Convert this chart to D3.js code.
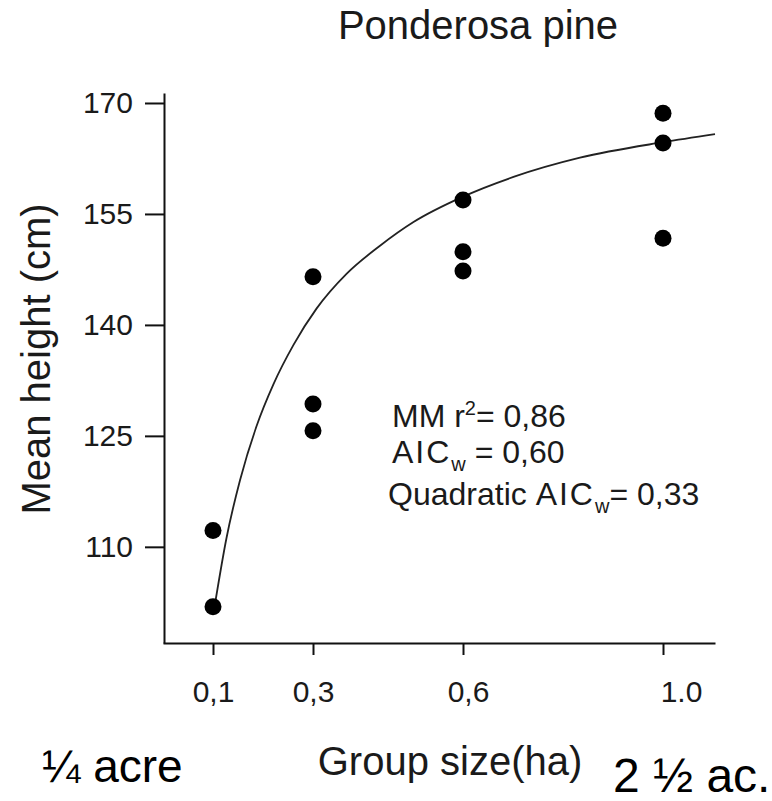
<!DOCTYPE html>
<html>
<head>
<meta charset="utf-8">
<script src="https://cdn.jsdelivr.net/npm/d3@7"></script>
<style>
  body { margin: 0; background: #fff; }
  svg text { font-family: "Liberation Sans", Arial, sans-serif; }
</style>
</head>
<body>
<div id="chart"></div>
<script>
  // observations (group size in ha, mean height in cm)
  const groupSize = [0.1, 0.1, 0.3, 0.3, 0.3, 0.6, 0.6, 0.6, 1.0, 1.0, 1.0];
  const meanHeight = [112.2, 101.9, 146.5, 129.3, 125.7, 156.9, 149.9, 147.3, 168.6, 164.6, 151.7];

  // fitted Michaelis-Menten curve
  const curveX = [0.105, 0.127, 0.154, 0.187, 0.221, 0.261, 0.307, 0.367, 0.434, 0.501, 0.599, 0.701, 0.834, 1.0, 1.104];
  const curveY = [102.7, 111.2, 119.0, 126.3, 132.0, 137.3, 142.2, 146.9, 150.7, 153.9, 157.3, 160.0, 162.6, 164.7, 165.8];

  const xTicks = [0.1, 0.3, 0.6, 1.0];
  const xTickLabels = ["0,1", "0,3", "0,6", "1.0"];
  const yTicks = [110, 125, 140, 155, 170];

  const width = 772,
    height = 801;

  const svg = d3.select("#chart")
    .append("svg")
    .attr("width", width)
    .attr("height", height);

  const x = d3.scaleLinear()
    .domain([0, 1.104])
    .range([163, 715]);

  const y = d3.scaleLinear()
    .domain([97, 171.35])
    .range([643, 93]);

  // y axis
  const yAxis = svg.append("g")
    .attr("transform", "translate(164,0)")
    .call(d3.axisLeft(y)
      .tickValues(yTicks)
      .tickSize(19)
      .tickSizeOuter(0)
      .tickPadding(12));

  yAxis.selectAll("text")
    .style("font-size", "30px")
    .attr("fill", "#1a1a1a");

  // x axis
  const xAxis = svg.append("g")
    .attr("transform", "translate(0,643)")
    .call(d3.axisBottom(x)
      .tickValues(xTicks)
      .tickFormat((d, i) => xTickLabels[i])
      .tickSize(12)
      .tickSizeOuter(0)
      .tickPadding(26));

  // the labels under 0.6 and 1.0 sit a little right of their ticks
  xAxis.selectAll("text")
    .style("font-size", "30px")
    .attr("fill", "#1a1a1a")
    .attr("dx", d => d === 1.0 ? 18 : (d === 0.6 ? 5 : 0));

  svg.selectAll(".domain, .tick line")
    .attr("stroke", "#111")
    .attr("stroke-width", 2);

  // fitted curve
  const line = d3.line()
    .x(d => x(d[0]))
    .y(d => y(d[1]))
    .curve(d3.curveMonotoneX);

  svg.append("path")
    .datum(d3.zip(curveX, curveY))
    .attr("d", line)
    .attr("fill", "none")
    .attr("stroke", "#222")
    .attr("stroke-width", 1.8);

  // points
  svg.selectAll("circle")
    .data(d3.zip(groupSize, meanHeight))
    .enter()
    .append("circle")
    .attr("cx", d => x(d[0]))
    .attr("cy", d => y(d[1]))
    .attr("r", 8.5)
    .attr("fill", "#000");

  // titles
  svg.append("text")
    .attr("x", 478)
    .attr("y", 39)
    .attr("text-anchor", "middle")
    .style("font-size", "40px")
    .attr("fill", "#1a1a1a")
    .text("Ponderosa pine");

  svg.append("text")
    .attr("transform", "translate(50,359) rotate(-90)")
    .attr("text-anchor", "middle")
    .style("font-size", "40px")
    .attr("fill", "#1a1a1a")
    .text("Mean height (cm)");

  svg.append("text")
    .attr("x", 450)
    .attr("y", 775)
    .attr("text-anchor", "middle")
    .style("font-size", "40px")
    .attr("fill", "#1a1a1a")
    .text("Group size(ha)");

  svg.append("text")
    .attr("x", 42)
    .attr("y", 782)
    .style("font-size", "46px")
    .attr("fill", "#000")
    .text("¼ acre");

  svg.append("text")
    .attr("x", 613)
    .attr("y", 792)
    .style("font-size", "48px")
    .attr("fill", "#000")
    .text("2 ½ ac.");

  // model statistics
  const stats = svg.append("g")
    .style("font-size", "32px")
    .attr("fill", "#1a1a1a");

  const t1 = stats.append("text").attr("x", 392).attr("y", 427);
  t1.append("tspan").text("MM r");
  t1.append("tspan").attr("dy", -12).style("font-size", "20px").text("2");
  t1.append("tspan").attr("dy", 12).text("= 0,86");

  const t2 = stats.append("text").attr("x", 392).attr("y", 463);
  t2.append("tspan").attr("letter-spacing", 2).text("AIC");
  t2.append("tspan").attr("dy", 8).style("font-size", "20px").text("w");
  t2.append("tspan").attr("dy", -8).text(" = 0,60");

  const t3 = stats.append("text").attr("x", 388).attr("y", 505);
  t3.append("tspan").text("Quadratic ");
  t3.append("tspan").attr("letter-spacing", 2).text("AIC");
  t3.append("tspan").attr("dy", 8).style("font-size", "20px").text("w");
  t3.append("tspan").attr("dy", -8).text("= 0,33");
</script>
</body>
</html>
